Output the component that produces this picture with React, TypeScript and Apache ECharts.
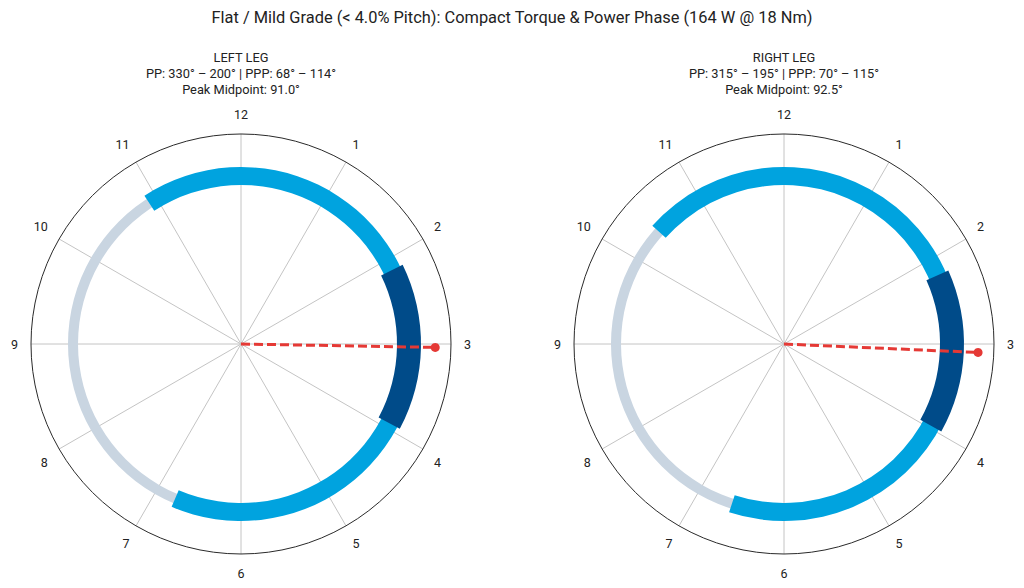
import React, { useEffect, useRef } from 'react';
import * as echarts from 'echarts';

const chartTitle = 'Flat / Mild Grade (< 4.0% Pitch): Compact Torque & Power Phase (164 W @ 18 Nm)';
const legNames = ['LEFT LEG', 'RIGHT LEG'];
const ppStart = [330, 315];
const ppEnd = [200, 195];
const pppStart = [68, 70];
const pppEnd = [114, 115];
const peakMid = [91.0, 92.5];
const clockLabels = ['12', '1', '2', '3', '4', '5', '6', '7', '8', '9', '10', '11'];

const FONT = 'Roboto, "Noto Sans", sans-serif';
const centers = [241, 784];
const CY = 344;
const RADIUS = 210;
const RING = 0.8;
const PEAK_R = 0.925;

// arc drawn as a sector; square caps stick out half the width past each end
const ringSeries = (polarIndex: number, name: string, data: number[][], width: number, color: string, z: number, caps: boolean) => ({
  type: 'custom',
  name,
  coordinateSystem: 'polar',
  polarIndex,
  silent: true,
  z,
  data,
  renderItem: (params: any, api: any) => {
    const cs = params.coordSys;
    const cx = cs.cx;
    const cy = cs.cy;
    const p0 = api.coord([RING, api.value(0)]);
    const p1 = api.coord([RING, api.value(1)]);
    let a0 = Math.atan2(p0[1] - cy, p0[0] - cx);
    let a1 = Math.atan2(p1[1] - cy, p1[0] - cx);
    while (a1 <= a0 + 1e-6) a1 += Math.PI * 2;
    const rMid = cs.r * RING;
    if (caps) {
      const ext = width / 2 / rMid;
      a0 -= ext;
      a1 += ext;
    }
    return {
      type: 'sector',
      shape: { cx, cy, r0: rMid - width / 2, r: rMid + width / 2, startAngle: a0, endAngle: a1, clockwise: true },
      style: { fill: color }
    };
  }
});

export default function App() {
  const ref = useRef<HTMLDivElement>(null);

  useEffect(() => {
    if (!ref.current) return;
    const chart = echarts.init(ref.current, null, { renderer: 'svg' });

    const polar = centers.map((cx) => ({ center: [cx, CY], radius: RADIUS }));
    const angleAxis = centers.map((_, i) => ({
      polarIndex: i,
      type: 'value',
      min: 0,
      max: 360,
      interval: 30,
      startAngle: 90,
      clockwise: true,
      axisLine: { show: true, lineStyle: { color: '#2a2a2a', width: 1 } },
      axisTick: { show: false },
      splitLine: { show: true, lineStyle: { color: '#c4c4c4', width: 1 } },
      axisLabel: {
        margin: 13,
        color: '#222',
        fontSize: 12.5,
        fontFamily: FONT,
        formatter: (v: number) => (v >= 360 ? '' : clockLabels[Math.round(v / 30) % 12])
      }
    }));
    const radiusAxis = centers.map((_, i) => ({
      polarIndex: i,
      type: 'value',
      min: 0,
      max: 1,
      axisLine: { show: false },
      axisTick: { show: false },
      axisLabel: { show: false },
      splitLine: { show: false }
    }));

    const series: any[] = [];
    legNames.forEach((name, i) => {
      series.push(ringSeries(i, name + ' cycle', [[0, 360]], 10, '#c9d5e1', 2, false));
      series.push(ringSeries(i, name + ' PP', [[ppStart[i], ppEnd[i]]], 18, '#00a3df', 3, true));
      series.push(ringSeries(i, name + ' PPP', [[pppStart[i], pppEnd[i]]], 24, '#004b89', 4, true));
      series.push({
        type: 'line',
        name: name + ' peak',
        coordinateSystem: 'polar',
        polarIndex: i,
        silent: true,
        z: 5,
        symbol: 'circle',
        symbolSize: 9,
        itemStyle: { color: '#e53935' },
        lineStyle: { color: '#e53935', width: 3, type: [9, 4] },
        data: [{ value: [0, peakMid[i]], symbol: 'none' }, { value: [PEAK_R, peakMid[i]] }]
      });
    });

    const graphic: any[] = [
      {
        type: 'text',
        x: 512,
        y: 17,
        style: { text: chartTitle, fontSize: 16.4, fontFamily: FONT, fill: '#222', textAlign: 'center', textVerticalAlign: 'middle' }
      }
    ];
    legNames.forEach((name, i) => {
      const lines = [
        name,
        `PP: ${ppStart[i]}° – ${ppEnd[i]}° | PPP: ${pppStart[i]}° – ${pppEnd[i]}°`,
        `Peak Midpoint: ${peakMid[i].toFixed(1)}°`
      ];
      lines.forEach((t, k) => {
        graphic.push({
          type: 'text',
          x: centers[i],
          y: 57 + k * 16,
          style: { text: t, fontSize: 12.8, fontFamily: FONT, fill: '#222', textAlign: 'center', textVerticalAlign: 'middle' }
        });
      });
    });

    chart.setOption({
      animation: false,
      backgroundColor: '#ffffff',
      polar,
      angleAxis,
      radiusAxis,
      series,
      graphic
    });

    return () => chart.dispose();
  }, []);

  return <div ref={ref} style={{ position: 'fixed', left: 0, top: 0, width: 1024, height: 588 }} />;
}
